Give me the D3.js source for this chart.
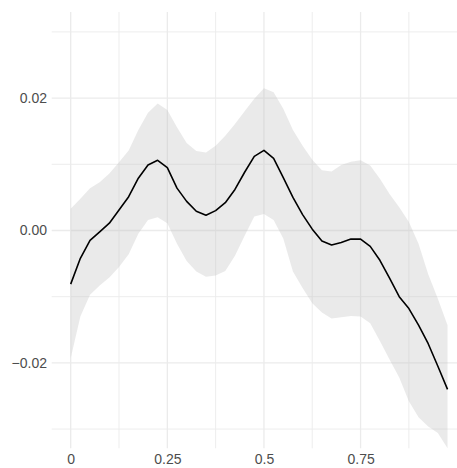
<!DOCTYPE html>
<html>
<head>
<meta charset="utf-8">
<script src="https://cdn.jsdelivr.net/npm/d3@7"></script>
<style>
  html, body { margin: 0; padding: 0; background: #ffffff; }
  svg { display: block; }
  .tick text { font-family: "Liberation Sans", Arial, sans-serif; font-size: 14px; fill: #4d4d4d; }
</style>
</head>
<body>
<svg id="chart" width="457" height="468"></svg>
<script>
// Smoothed estimate and its confidence band, sampled every 0.025
const xs = [0, 0.025, 0.05, 0.075, 0.1, 0.125, 0.15, 0.175, 0.2, 0.225,
            0.25, 0.275, 0.3, 0.325, 0.35, 0.375, 0.4, 0.425, 0.45, 0.475,
            0.5, 0.525, 0.55, 0.575, 0.6, 0.625, 0.65, 0.675, 0.7, 0.725,
            0.75, 0.775, 0.8, 0.825, 0.85, 0.875, 0.9, 0.925, 0.95, 0.975];
const fit = [-0.0081, -0.0042, -0.0015, -0.0002, 0.0011, 0.0031, 0.0051, 0.0079, 0.0099, 0.0106,
             0.0095, 0.0064, 0.0044, 0.0029, 0.0023, 0.0030, 0.0042, 0.0062, 0.0088, 0.0112,
             0.0121, 0.0109, 0.0080, 0.0050, 0.0024, 0.0002, -0.0016, -0.0022, -0.0018, -0.0013,
             -0.0013, -0.0024, -0.0045, -0.0072, -0.0100, -0.0118, -0.0143, -0.0171, -0.0205, -0.0240];
const upper = [0.0033, 0.0048, 0.0064, 0.0073, 0.0086, 0.0103, 0.0121, 0.0152, 0.0178, 0.0192,
               0.0182, 0.0156, 0.0132, 0.0120, 0.0118, 0.0128, 0.0143, 0.0161, 0.0180, 0.0199,
               0.0215, 0.0209, 0.0184, 0.0152, 0.0128, 0.0107, 0.0091, 0.0089, 0.0099, 0.0104,
               0.0106, 0.0098, 0.0078, 0.0055, 0.0035, 0.0013, -0.0020, -0.0066, -0.0103, -0.0143];
const lower = [-0.0193, -0.0130, -0.0097, -0.0083, -0.0071, -0.0055, -0.0036, -0.0005, 0.0016, 0.0020,
               0.0011, -0.0020, -0.0046, -0.0062, -0.0070, -0.0068, -0.0061, -0.0038, -0.0008, 0.0021,
               0.0025, 0.0016, -0.0012, -0.0062, -0.0087, -0.0110, -0.0124, -0.0133, -0.0131, -0.0129,
               -0.0130, -0.0140, -0.0167, -0.0195, -0.0222, -0.0258, -0.0282, -0.0296, -0.0306, -0.0329];

const xTickValues = [0, 0.25, 0.5, 0.75];
const xTickLabels = ["0", "0.25", "0.5", "0.75"];
const xMinorValues = [0.125, 0.375, 0.625, 0.875];
const yTickValues = [-0.02, 0, 0.02];
const yTickLabels = ["\u22120.02", "0.00", "0.02"];
const yMinorValues = [-0.03, -0.01, 0.01, 0.03];

const panel = { left: 51.7, right: 457, top: 12, bottom: 448.3 };

const svg = d3.select("#chart");
const x = d3.scaleLinear().domain([0, 1]).range([70.7, 457.2]);
const y = d3.scaleLinear().domain([-0.03, 0.03]).range([429.1, 31.9]);

svg.append("defs").append("clipPath").attr("id", "panel-clip")
  .append("rect")
  .attr("x", panel.left).attr("y", panel.top)
  .attr("width", panel.right - panel.left).attr("height", panel.bottom - panel.top);

// grid
const grid = svg.append("g").attr("fill", "none").attr("stroke", "#ebebeb");
grid.selectAll("line.hmin").data(yMinorValues).join("line")
  .attr("x1", panel.left).attr("x2", panel.right)
  .attr("y1", d => y(d)).attr("y2", d => y(d)).attr("stroke-width", 0.9);
grid.selectAll("line.vmin").data(xMinorValues).join("line")
  .attr("y1", panel.top).attr("y2", panel.bottom)
  .attr("x1", d => x(d)).attr("x2", d => x(d)).attr("stroke-width", 0.9);
grid.selectAll("line.hmaj").data(yTickValues).join("line")
  .attr("x1", panel.left).attr("x2", panel.right)
  .attr("y1", d => y(d)).attr("y2", d => y(d)).attr("stroke-width", 1.3);
grid.selectAll("line.vmaj").data(xTickValues).join("line")
  .attr("y1", panel.top).attr("y2", panel.bottom)
  .attr("x1", d => x(d)).attr("x2", d => x(d)).attr("stroke-width", 1.3);

const pts = xs.map((v, i) => ({ x: v, fit: fit[i], lo: lower[i], hi: upper[i] }));
const plot = svg.append("g").attr("clip-path", "url(#panel-clip)");

// confidence band
plot.append("path")
  .datum(pts)
  .attr("fill", "#bebebe")
  .attr("fill-opacity", 0.33)
  .attr("d", d3.area().x(d => x(d.x)).y0(d => y(d.lo)).y1(d => y(d.hi)));

// fitted line
plot.append("path")
  .datum(pts)
  .attr("fill", "none")
  .attr("stroke", "#000000")
  .attr("stroke-width", 1.6)
  .attr("stroke-linejoin", "round")
  .attr("d", d3.line().x(d => x(d.x)).y(d => y(d.fit)));

// axes (labels only)
const xAxis = d3.axisBottom(x).tickValues(xTickValues)
  .tickFormat((d, i) => xTickLabels[i]).tickSize(0).tickPadding(5.3);
svg.append("g").attr("transform", `translate(0,${panel.bottom})`).call(xAxis)
  .call(g => g.select(".domain").remove());

const yAxis = d3.axisLeft(y).tickValues(yTickValues)
  .tickFormat((d, i) => yTickLabels[i]).tickSize(0).tickPadding(4.7);
svg.append("g").attr("transform", `translate(${panel.left},0)`).call(yAxis)
  .call(g => g.select(".domain").remove());
svg.selectAll(".tick text").attr("font-family", null).attr("font-size", null).attr("fill", null);
</script>
</body>
</html>
